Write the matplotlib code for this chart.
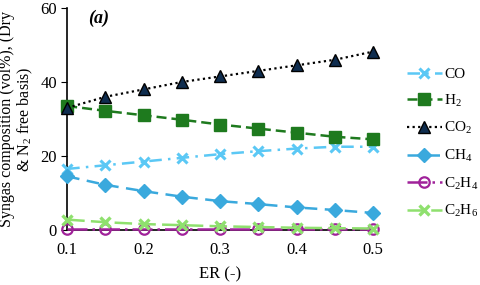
import matplotlib

matplotlib.use("Agg")
import matplotlib.pyplot as plt

plt.rcParams["font.family"] = ["Liberation Serif", "DejaVu Serif"]
plt.rcParams["mathtext.fontset"] = "custom"
plt.rcParams["mathtext.rm"] = "Liberation Serif"
plt.rcParams["mathtext.it"] = "Liberation Serif:italic"

er = [0.10, 0.15, 0.20, 0.25, 0.30, 0.35, 0.40, 0.45, 0.50]
co = [16.5, 17.5, 18.5, 19.5, 20.5, 21.3, 22.0, 22.5, 22.5]
h2 = [33.5, 32.2, 31.0, 29.8, 28.5, 27.4, 26.3, 25.2, 24.5]
co2 = [33.0, 36.0, 38.0, 40.0, 41.5, 43.0, 44.5, 46.0, 48.2]
ch4 = [14.5, 12.2, 10.5, 9.0, 7.8, 7.0, 6.1, 5.4, 4.6]
c2h4 = [0.2, 0.2, 0.2, 0.2, 0.2, 0.2, 0.2, 0.2, 0.2]
c2h6 = [2.8, 2.1, 1.6, 1.3, 1.0, 0.8, 0.6, 0.5, 0.4]
labels = ["CO", "H$_2$", "CO$_2$", "CH$_4$", "C$_2$H$_4$", "C$_2$H$_6$"]

fig = plt.figure(figsize=(4.8, 2.85), dpi=100)
ax = fig.add_axes([0.14, 0.193, 0.637, 0.779])

ax.plot(er, co, color="#5bc8f5", ls=(0, (5, 2.5, 1, 2.5)), lw=1.8, marker="x", ms=7.5, mew=2.2,
        label=labels[0], clip_on=False, zorder=3)
ax.plot(er, h2, color="#1e7a1e", ls=(0, (4, 2)), lw=1.8, marker="s", ms=8.5,
        label=labels[1], clip_on=False, zorder=3)
ax.plot(er, co2, color="black", ls=(0, (1, 1.5)), lw=1.6, marker="^", ms=8.5, mfc="#0f2d4f", mec="black",
        label=labels[2], clip_on=False, zorder=4)
ax.plot(er, ch4, color="#3aa9dd", ls=(0, (5, 3)), lw=1.8, marker="D", ms=7,
        label=labels[3], clip_on=False, zorder=3)
ax.plot(er, c2h4, color="#a0229a", ls=(0, (8, 2, 1, 2)), lw=1.8, marker="o", ms=7.5, mfc="none", mew=1.6,
        label=labels[4], clip_on=False, zorder=3)
ax.plot(er, c2h6, color="#8fe06e", ls=(0, (7, 2.5)), lw=1.8, marker="x", ms=7.5, mew=2.4,
        label=labels[5], clip_on=False, zorder=3)

ax.set_xlim(0.1, 0.5)
ax.set_ylim(0, 60)
ax.set_xticks([0.1, 0.2, 0.3, 0.4, 0.5])
ax.set_yticks([0, 20, 40, 60])
ax.spines["top"].set_visible(False)
ax.spines["right"].set_visible(False)
ax.spines["left"].set_linewidth(1.2)
ax.spines["bottom"].set_linewidth(1.2)
ax.tick_params(axis="both", labelsize=12, direction="out", length=4)
ax.tick_params(axis="x", length=0, pad=9)
ax.set_xlabel("ER (-)", fontsize=12, labelpad=6)
ax.set_ylabel("Syngas composition (vol%), (Dry\n& N$_2$ free basis)", fontsize=11.5, labelpad=4,
              linespacing=1.0)
ax.text(0.068, 0.992, "(a)", transform=ax.transAxes, fontsize=13, fontweight="bold", fontstyle="italic",
        va="top", ha="left")

ax.legend(loc="center left", bbox_to_anchor=(1.09, 0.39), frameon=False, fontsize=11,
          handlelength=2.3, labelspacing=0.75, handletextpad=0.15, borderaxespad=0)

fig.savefig("out.png", dpi=100)
